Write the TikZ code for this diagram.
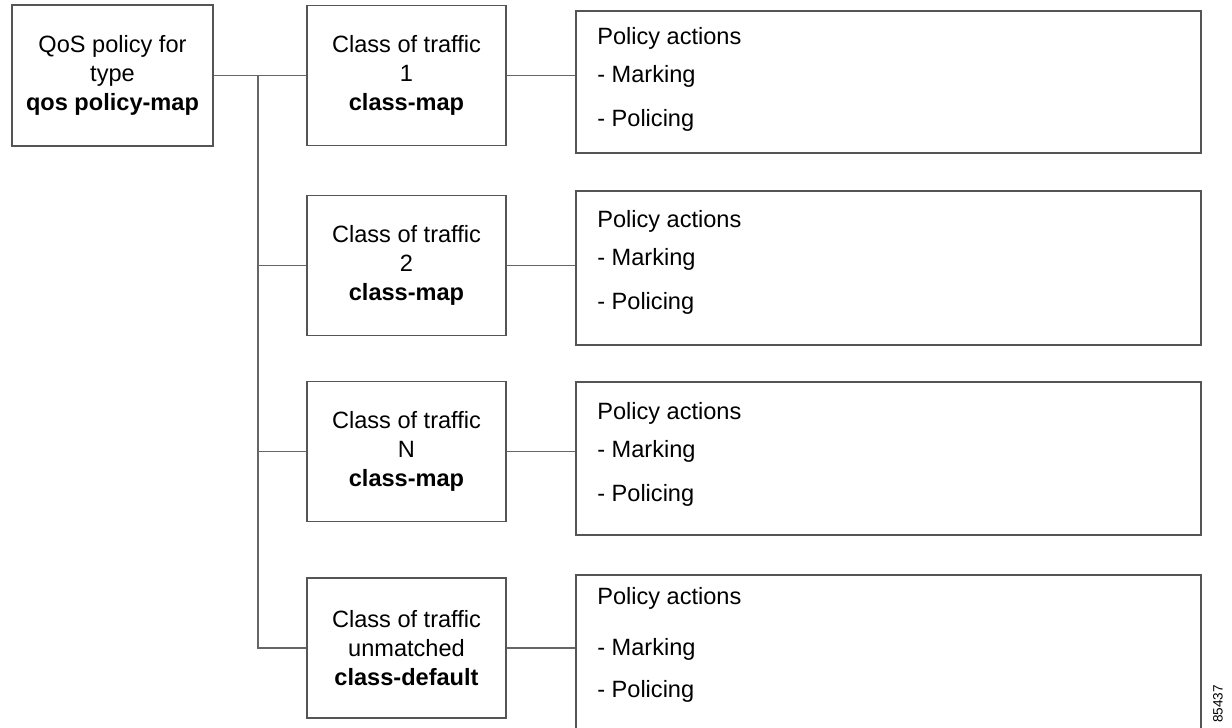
\documentclass[tikz,border=0pt]{standalone}
\usepackage{fontspec}
\setmainfont{Liberation Sans}
\usepackage{tikz}
\usetikzlibrary{positioning,calc}
\definecolor{boxgray}{HTML}{555555}
\definecolor{linegray}{HTML}{666666}
\tikzstyle{policymap} = [rectangle, minimum width=140.7pt, minimum height=98.7pt, inner sep=0pt, align=center, draw=boxgray, line width=1.1pt, font=\fontsize{16.5}{20.3}\selectfont]
\tikzstyle{classmap} = [policymap, minimum width=139.3pt, minimum height=98pt]
\tikzstyle{actions} = [rectangle, minimum width=437.5pt, inner sep=0pt, draw=boxgray, line width=1.1pt]
\tikzstyle{actlist} = [anchor=north west, inner sep=0pt, align=left, font=\fontsize{16.5}{26.6}\selectfont]
\tikzstyle{link} = [draw=linegray, line width=0.9pt]

\begin{document}
\begin{tikzpicture}[x=0.7pt, y=-0.7pt]
        \useasboundingbox (0,0) rectangle (1232,727);
        % Blocks
        \node (qos) [policymap] at (112.5,75.5) {QoS policy for\\type\\\textbf{qos policy-map}};
        \node (cls1) [classmap] at (406.5,75.5) {Class of traffic\\1\\\textbf{class-map}};
        \node (cls2) [classmap] at (406.5,265.5) {Class of traffic\\2\\\textbf{class-map}};
        \node (cls3) [classmap] at (406.5,451.5) {Class of traffic\\N\\\textbf{class-map}};
        \node (dflt) [classmap] at (406.5,648) {Class of traffic\\unmatched\\\textbf{class-default}};

        \node (act1) [actions, minimum height=99.4pt] at (888.5,82) {};
        \node (act2) [actions, minimum height=107.8pt] at (888.5,268) {};
        \node (act3) [actions, minimum height=107.1pt] at (888.5,458.5) {};
        \node (act4) [actions, minimum height=115.5pt] at (888.5,657.5) {};

        % Action texts
        \node (list1) [actlist] at (597,27) {Policy actions\\- Marking\\[4pt]- Policing};
        \node (list2) [actlist] at (597,210) {Policy actions\\- Marking\\[4pt]- Policing};
        \node (list3) [actlist] at (597,402) {Policy actions\\- Marking\\[4pt]- Policing};
        \node (list4) [actlist] at (597,587) {Policy actions\\[9pt]- Marking\\[3pt]- Policing};

        \node (figid) [rotate=90, inner sep=0pt, font=\fontsize{9.5}{9.5}\selectfont] at (1218,704) {85437};

        % Lines
        \coordinate (bus) at (258,0);
        \draw [link] (qos.east) -- (cls1.west);
        \draw [link] (bus |- qos.east) |- (dflt.west);
        \draw [link] (bus |- cls2.west) -- (cls2.west);
        \draw [link] (bus |- cls3.west) -- (cls3.west);
        \draw [link] (cls1.east) -- (cls1.east -| act1.west);
        \draw [link] (cls2.east) -- (cls2.east -| act2.west);
        \draw [link] (cls3.east) -- (cls3.east -| act3.west);
        \draw [link] (dflt.east) -- (dflt.east -| act4.west);
    \end{tikzpicture}
\end{document}
